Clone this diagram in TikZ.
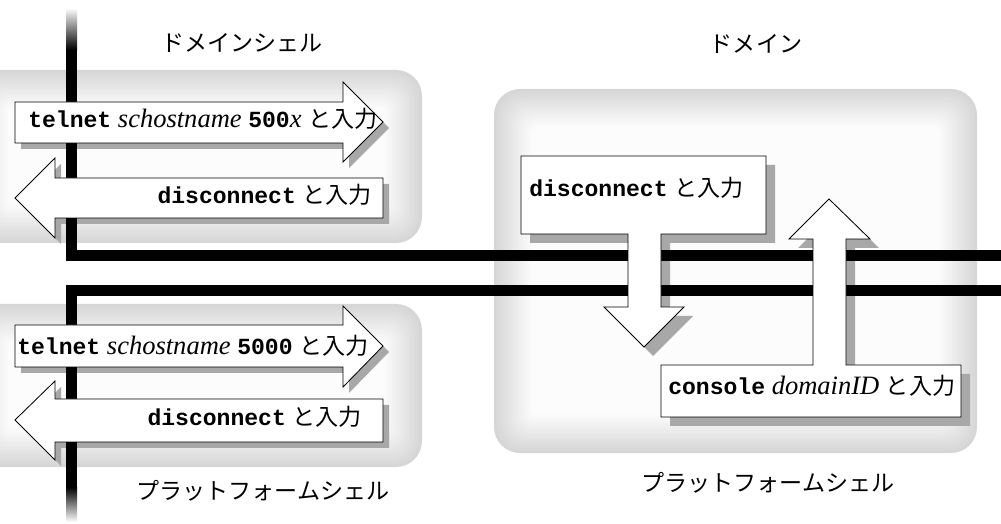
\documentclass[tikz,border=0pt]{standalone}
\usepackage{fontspec}
\setmainfont{Liberation Serif}[Scale=1.15]
\setmonofont{Liberation Mono}
\newfontfamily\jpfont{Noto Sans CJK JP}
\usetikzlibrary{positioning}

\begin{document}
\begin{tikzpicture}[x=0.025cm,y=-0.025cm,
  txt/.style={inner sep=0pt, font=\fontsize{16.4}{19}\selectfont},
  lbl/.style={inner sep=0pt, font=\jpfont\fontsize{16.4}{19}\selectfont},
  blk/.style={draw=black, fill=white, line width=0.6pt, line join=miter},
  shd/.style={fill=black!34, draw=none},
  bar/.style={line width=0.275cm}]

\useasboundingbox (0,0) rectangle (1001,524);

% shell and domain boxes
\foreach \xa/\ya/\xb/\yb in {-30/70/422/243, -30/304/422/467, 494/89/977/453}
  \foreach \i in {0,...,15} {
    \pgfmathtruncatemacro{\shadeval}{16-\i}
    \pgfmathsetmacro{\rad}{(26-1.2*\i)*0.025}
    \fill[black!\shadeval, rounded corners=\rad cm] (\xa+2.5*\i,\ya+2.5*\i) rectangle (\xb-2.5*\i,\yb-2.5*\i);
  }

\def\shellarrows{(15,102) -- (343,102) -- (343,82) -- (383,122) -- (343,162) -- (343,143) -- (15,143) -- cycle
  (383,178) -- (55,178) -- (55,158) -- (15,198) -- (55,238) -- (55,218) -- (383,218) -- cycle
  (15,325) -- (343,325) -- (343,306) -- (383,346) -- (343,387) -- (343,367) -- (15,367) -- cycle
  (383,399) -- (55,399) -- (55,381) -- (15,420) -- (55,460) -- (55,442) -- (383,442) -- cycle}
\def\domainarrows{(521,156) -- (766,156) -- (766,234) -- (661,234) -- (661,307) -- (684,307) -- (644,347)
    -- (604,307) -- (628,307) -- (628,234) -- (521,234) -- cycle
  (661,365) -- (813,365) -- (813,239) -- (789,239) -- (829,199) -- (870,239) -- (846,239)
    -- (846,365) -- (961,365) -- (961,417) -- (661,417) -- cycle}

% shadows
\fill[shd, shift={(6,6)}] \shellarrows;
\fill[shd, shift={(9,9)}] \domainarrows;

% wires
\shade[top color=white, bottom color=black] (66,8) rectangle (77,50);
\draw[bar] (71.5,50) -- (71.5,255.5) -- (1010,255.5);
\draw[bar] (1010,290.5) -- (71.5,290.5) -- (71.5,487);
\shade[top color=black, bottom color=white] (66,487) rectangle (77,522);

% arrows
\path[blk] \shellarrows;
\path[blk] \domainarrows;

\node[txt, anchor=base west] (tel1) at (28,128) {{\ttfamily\bfseries telnet} \textit{schostname} {\ttfamily\bfseries 500}\textit{x} {\jpfont と入力}};
\node[txt, anchor=base east] (dis1) at (372,204) {{\ttfamily\bfseries disconnect} {\jpfont と入力}};
\node[txt, anchor=base west] (tel2) at (17,355) {{\ttfamily\bfseries telnet} \textit{schostname} {\ttfamily\bfseries 5000} {\jpfont と入力}};
\node[txt, anchor=base east] (dis2) at (362,426) {{\ttfamily\bfseries disconnect} {\jpfont と入力}};
\node[txt, anchor=base west] (dis3) at (529,197) {{\ttfamily\bfseries disconnect} {\jpfont と入力}};
\node[txt, anchor=base west] (con) at (668,395) {{\ttfamily\bfseries console} \textit{domainID} {\jpfont と入力}};

\node[lbl] (dshell) at (242,43) {ドメインシェル};
\node[lbl] (dom) at (756,44) {ドメイン};
\node[lbl] (pshell) at (263,491) {プラットフォームシェル};
\node[lbl] (pshell2) at (768,483) {プラットフォームシェル};
\end{tikzpicture}
\end{document}
